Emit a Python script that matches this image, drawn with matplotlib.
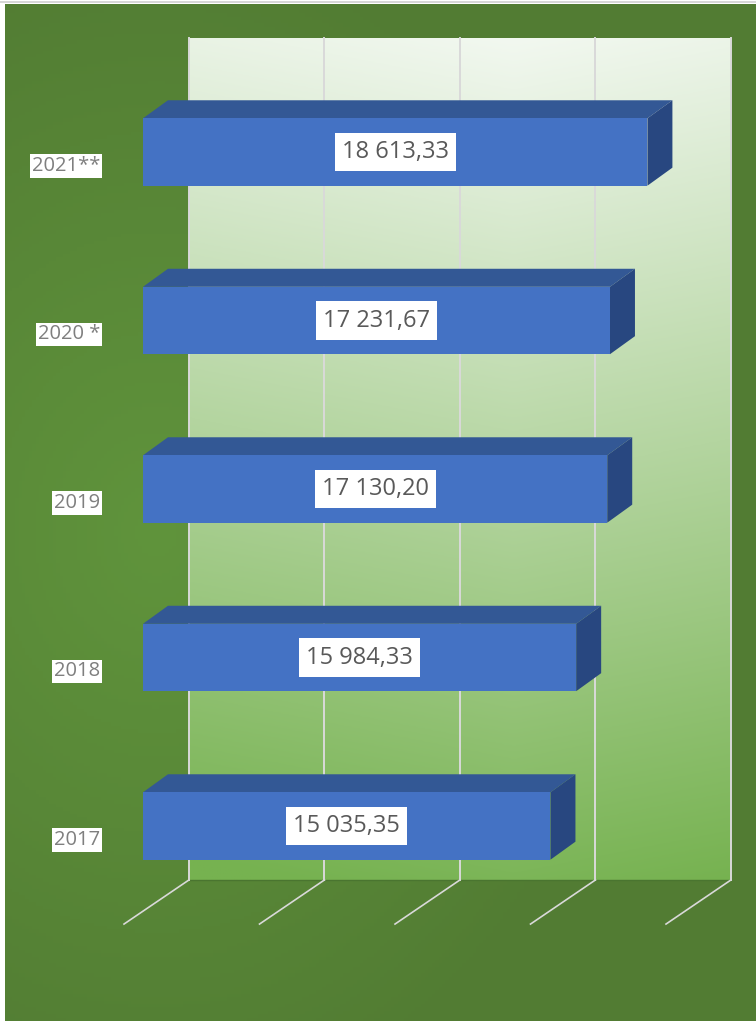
import numpy as np
import matplotlib.pyplot as plt
from matplotlib.patches import Polygon, Rectangle

plt.rcParams['font.family'] = ['Open Sans', 'DejaVu Sans']

years = ['2017', '2018', '2019', '2020 *', '2021**']
values = [15035.35, 15984.33, 17130.20, 17231.67, 18613.33]
ticks = [0, 5000, 10000, 15000, 20000]

# 3d look: depth of bars and of the back wall, in data units
bar_h = 0.40
bar_dx, bar_dy = 922, 0.107
wall_dx = 1697
floor_back, floor_front = -0.320, -0.582
floor_dx = -701
wall_top = 4.677

fig = plt.figure(figsize=(7.56, 10.21), dpi=100, facecolor='white')

# dark green backdrop with a soft lighter band on the left
bg = fig.add_axes([5/756, 0, 751/756, 1017/1021])
bg.set_axis_off()
yy, xx = np.mgrid[0:1:300j, 0:1:220j]
d = np.hypot((xx - 0.2) * 1.0, (yy - 0.52) * 1.1)
dark = np.array([82, 124, 51]) / 255
light = np.array([96, 148, 60]) / 255
k = np.clip(d / 0.65, 0, 1)[..., None]
bg.imshow(light * (1 - k) + dark * k, aspect='auto', extent=(0, 1, 0, 1))
fig.add_artist(plt.Line2D([0, 1], [1 - 2/1021, 1 - 2/1021], color='#d0d0d0', lw=1.2))

ax = fig.add_axes([0, 0, 1, 1])
ax.set_facecolor('none')
px = 0.0271
ax.set_xlim(-143/px, (756 - 143)/px)
ax.set_ylim((826 - 1021)/168.5, 826/168.5)
ax.set_axis_off()

# back wall gradient, mostly top to bottom
v, u = np.mgrid[0:1:300j, 0:1:200j]
s = np.clip(0.95 * v + 0.12 * np.abs(u - 0.6), 0, 1)[..., None]
top_c = np.array([242, 248, 240]) / 255
bot_c = np.array([118, 178, 80]) / 255
ax.imshow(top_c * (1 - s) + bot_c * s, aspect='auto', zorder=1,
          extent=(ticks[0] + wall_dx, ticks[-1] + wall_dx, floor_back, wall_top))
ax.plot([ticks[0] + wall_dx, ticks[-1] + wall_dx], [floor_back, floor_back],
        color='#4a7530', lw=1.0, zorder=1.5)

for t in ticks:
    ax.plot([t + wall_dx, t + wall_dx], [floor_back, wall_top], color='#d9d9d9', lw=1.4, zorder=2)
    ax.plot([t + wall_dx, t + floor_dx], [floor_back, floor_front], color='#d9d9d9', lw=1.2, zorder=2)

for i, (yr, val) in enumerate(zip(years, values)):
    lo, hi = i - bar_h/2, i + bar_h/2
    top = Polygon([(0, hi), (bar_dx, hi + bar_dy), (val + bar_dx, hi + bar_dy), (val, hi)],
                  closed=True, facecolor='#335895', edgecolor='none', zorder=3)
    side = Polygon([(val, lo), (val + bar_dx, lo + bar_dy), (val + bar_dx, hi + bar_dy), (val, hi)],
                   closed=True, facecolor='#284780', edgecolor='none', zorder=3)
    ax.add_patch(top)
    ax.add_patch(side)
    ax.add_patch(Rectangle((0, lo), val, bar_h, facecolor='#4472C4', edgecolor='none', zorder=4))

    txt = f'{val:,.2f}'.replace(',', ' ').replace('.', ',')
    ax.text(val/2, i, txt, ha='center', va='center', fontsize=17, color='#595959', zorder=5,
            bbox=dict(boxstyle='square,pad=0.3', facecolor='white', edgecolor='none'))
    ax.text(-1590, i - 0.083, yr, ha='right', va='center', fontsize=14.5, color='#7f7f7f', zorder=5,
            bbox=dict(boxstyle='square,pad=0.08', facecolor='white', edgecolor='none'))

fig.savefig('out.png', dpi=100, facecolor=fig.get_facecolor())
